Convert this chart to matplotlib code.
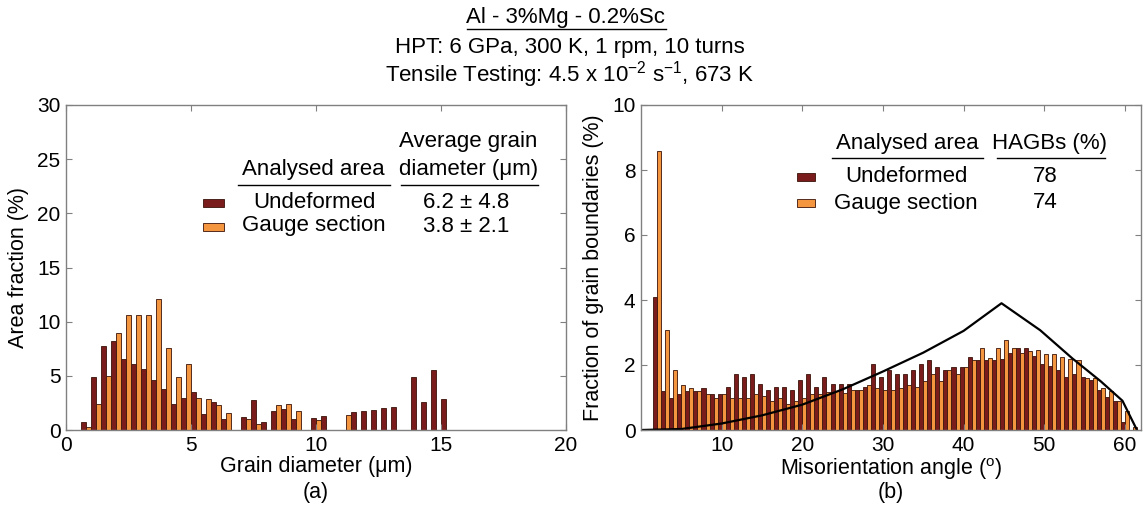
import matplotlib
matplotlib.use("Agg")
import matplotlib.pyplot as plt
from matplotlib.patches import Rectangle
from matplotlib.lines import Line2D
import numpy as np

plt.rcParams['font.family'] = ['Liberation Sans', 'DejaVu Sans']
plt.rcParams['mathtext.fontset'] = 'custom'
plt.rcParams['mathtext.rm'] = 'Liberation Sans'

# ---------------- data: panel (a) grain size ----------------
grain_bins = [0.8, 1.2, 1.6, 2.0, 2.4, 2.8, 3.2, 3.6, 4.0, 4.4, 4.8, 5.2, 5.6, 6.0, 6.4,
              6.8, 7.2, 7.6, 8.0, 8.4, 8.8, 9.2, 9.6, 10.0, 10.4, 10.8, 11.2, 11.6, 12.0,
              12.4, 12.8, 13.2, 13.6, 14.0, 14.4, 14.8, 15.2]
grain_undeformed = [0.73, 4.9, 7.8, 8.2, 6.6, 6.1, 5.6, 4.6, 3.75, 2.4, 3.0, 3.5, 1.45, 2.6, 0.97,
                    0.0, 1.23, 2.8, 0.76, 1.74, 1.9, 1.0, 0.0, 1.14, 1.28, 0.0, 0.0, 1.65, 1.74,
                    1.84, 2.06, 2.15, 0.0, 4.9, 2.58, 5.5, 2.83]
grain_gauge = [0.3, 2.4, 5.0, 9.0, 10.6, 10.6, 10.6, 12.1, 7.6, 4.9, 6.1, 3.0, 2.9, 2.27, 1.6,
               0.0, 1.0, 0.57, 0.0, 2.27, 2.4, 1.74, 0.0, 0.93, 0.0, 0.0, 1.35, 0.0, 0.0,
               0.0, 0.0, 0.0, 0.0, 0.0, 0.0, 0.0, 0.0]

# ---------------- data: panel (b) misorientation ----------------
mis_bins = list(range(2, 62))
mis_undeformed = [4.1, 1.21, 1.0, 1.12, 1.21, 1.21, 1.3, 1.12, 1.12, 1.32,
                  1.73, 1.63, 1.73, 1.42, 1.22, 1.32, 1.32, 1.22, 1.54, 1.73,
                  1.32, 1.63, 1.42, 1.42, 1.42, 1.23, 1.32, 2.04, 1.63, 1.84,
                  1.73, 1.73, 1.84, 2.04, 2.15, 1.94, 1.84, 1.94, 1.94, 2.26,
                  2.15, 2.15, 2.15, 2.17, 2.38, 2.53, 2.53, 2.28, 2.02, 1.97,
                  1.84, 1.63, 1.73, 1.63, 1.53, 1.22, 1.02, 0.89, 0.26, 0.0]
mis_gauge = [8.6, 3.07, 1.84, 1.4, 1.3, 1.21, 1.12, 1.0, 1.12, 0.98,
             0.98, 0.98, 1.12, 1.05, 0.89, 0.99, 0.8, 0.89, 0.99, 1.12,
             1.12, 1.17, 1.2, 1.15, 1.22, 1.23, 1.4, 1.3, 1.23, 1.22,
             1.3, 1.4, 1.32, 1.51, 1.73, 1.51, 1.84, 1.73, 1.94, 2.15,
             2.53, 2.22, 2.53, 2.76, 2.53, 2.38, 2.43, 2.45, 2.35, 2.33,
             2.25, 2.2, 2.14, 1.6, 1.6, 1.3, 1.2, 0.89, 0.6, 0.1]
mack_angle = [0, 5, 10, 15, 20, 25, 30, 35, 40, 44.7, 49.5, 53.5, 57, 59.7, 61.5]
mack_value = [0.0, 0.03, 0.2, 0.45, 0.78, 1.25, 1.8, 2.38, 3.05, 3.9, 3.07, 2.2, 1.5, 0.9, 0.0]

legend_rows = ["Undeformed", "Gauge section"]
avg_grain = ["6.2 \u00b1 4.8", "3.8 \u00b1 2.1"]
hagbs = ["78", "74"]

DARK = "#7b1c1c"
ORANGE = "#f3963f"
EDGE = "#3a1208"
SPINE = "#808080"
FS = 16      # legend / title text
FS_TICK = 15
FS_LAB = 15.5

fig = plt.figure(figsize=(11.46, 5.18), dpi=100)
W, H = 1146, 518


def style_axes(ax):
    for s in ax.spines.values():
        s.set_color(SPINE)
        s.set_linewidth(1.0)
    ax.tick_params(direction='in', top=True, right=True, length=4, color=SPINE,
                   labelsize=FS_TICK, pad=4)


def ax_frac(px, py, x0):
    return (px - x0) / 500, (430 - py) / 325


def put(ax, x0, px, py, s):
    tx, ty = ax_frac(px, py, x0)
    ax.text(tx, ty, s, transform=ax.transAxes, ha='center', va='center', fontsize=FS)


def hline(ax, x0, a, b, py):
    xa, yl = ax_frac(a, py, x0)
    xb, _ = ax_frac(b, py, x0)
    ax.add_line(Line2D([xa, xb], [yl, yl], transform=ax.transAxes, color='black', lw=1.0))


def swatch(ax, x0, px, py_top, w, h, col):
    xa, yb = ax_frac(px, py_top + h, x0)
    ax.add_patch(Rectangle((xa, yb), w / 500, h / 325, transform=ax.transAxes,
                           facecolor=col, edgecolor=EDGE, linewidth=0.6))


# ---------------- panel (a) ----------------
axa = fig.add_axes([66 / W, (H - 430) / H, 500 / W, 325 / H])
gb = np.array(grain_bins)
bw = 0.2
axa.bar(gb - bw / 2, grain_undeformed, width=bw, color=DARK, edgecolor=EDGE, linewidth=0.6)
axa.bar(gb + bw / 2, grain_gauge, width=bw, color=ORANGE, edgecolor=EDGE, linewidth=0.6)
axa.set_xlim(0, 20)
axa.set_ylim(0, 30)
axa.set_xticks([0, 5, 10, 15, 20])
axa.set_yticks([0, 5, 10, 15, 20, 25, 30])
style_axes(axa)
axa.set_xlabel("Grain diameter (\u03bcm)", fontsize=FS_LAB, labelpad=1)
axa.set_ylabel("Area fraction (%)", fontsize=FS_LAB, labelpad=6)
axa.text(0.5, -0.16, "(a)", transform=axa.transAxes, ha='center', va='top', fontsize=FS_LAB)

x0 = 66
put(axa, x0, 468, 142, "Average grain")
put(axa, x0, 469, 170, "diameter (\u03bcm)")
put(axa, x0, 313, 170, "Analysed area")
hline(axa, x0, 238, 390, 185)
hline(axa, x0, 401, 538, 185)
for i, (name, val, col) in enumerate(zip(legend_rows, avg_grain, [DARK, ORANGE])):
    py = 202 + 24 * i
    swatch(axa, x0, 203, py - 3, 21, 8, col)
    put(axa, x0, 314, py, name)
    put(axa, x0, 466, py, val)

# ---------------- panel (b) ----------------
axb = fig.add_axes([641 / W, (H - 430) / H, 500 / W, 325 / H])
mb = np.array(mis_bins, dtype=float)
mw = 0.5
axb.bar(mb - mw / 2, mis_undeformed, width=mw, color=DARK, edgecolor=EDGE, linewidth=0.6)
axb.bar(mb + mw / 2, mis_gauge, width=mw, color=ORANGE, edgecolor=EDGE, linewidth=0.6)
axb.plot(mack_angle, mack_value, color='black', lw=1.6)
axb.set_xlim(0, 62)
axb.set_ylim(0, 10)
axb.set_xticks([10, 20, 30, 40, 50, 60])
axb.set_yticks([0, 2, 4, 6, 8, 10])
style_axes(axb)
axb.set_xlabel("Misorientation angle ($^{\\mathrm{o}}$)", fontsize=FS_LAB, labelpad=1)
axb.set_ylabel("Fraction of grain boundaries (%)", fontsize=FS_LAB, labelpad=6)
axb.text(0.5, -0.16, "(b)", transform=axb.transAxes, ha='center', va='top', fontsize=FS_LAB)

x0 = 641
put(axb, x0, 907, 143, "Analysed area")
put(axb, x0, 1050, 143, "HAGBs (%)")
hline(axb, x0, 832, 983, 158)
hline(axb, x0, 997, 1105, 158)
for i, (name, val, col) in enumerate(zip(legend_rows, hagbs, [DARK, ORANGE])):
    py = 177 + 26 * i
    swatch(axb, x0, 797, py - 4, 18, 8, col)
    put(axb, x0, 906, py, name)
    put(axb, x0, 1045, py, val)

# ---------------- titles ----------------
t1 = fig.text(566 / W, 1 - 17 / H, "Al - 3%Mg - 0.2%Sc", ha='center', va='center', fontsize=FS)
fig.text(570 / W, 1 - 48 / H, "HPT: 6 GPa, 300 K, 1 rpm, 10 turns", ha='center', va='center',
         fontsize=FS)
fig.text(570 / W, 1 - 75 / H,
         "Tensile Testing: 4.5 x 10$^{\\mathrm{-2}}$ s$^{\\mathrm{-1}}$, 673 K",
         ha='center', va='center', fontsize=FS)

fig.canvas.draw()
bb = t1.get_window_extent(renderer=fig.canvas.get_renderer())
fig.add_artist(Line2D([bb.x0 / W, bb.x1 / W], [1 - 29 / H, 1 - 29 / H], color='black', lw=1.0,
                      transform=fig.transFigure))

fig.savefig("out.png", dpi=100)
